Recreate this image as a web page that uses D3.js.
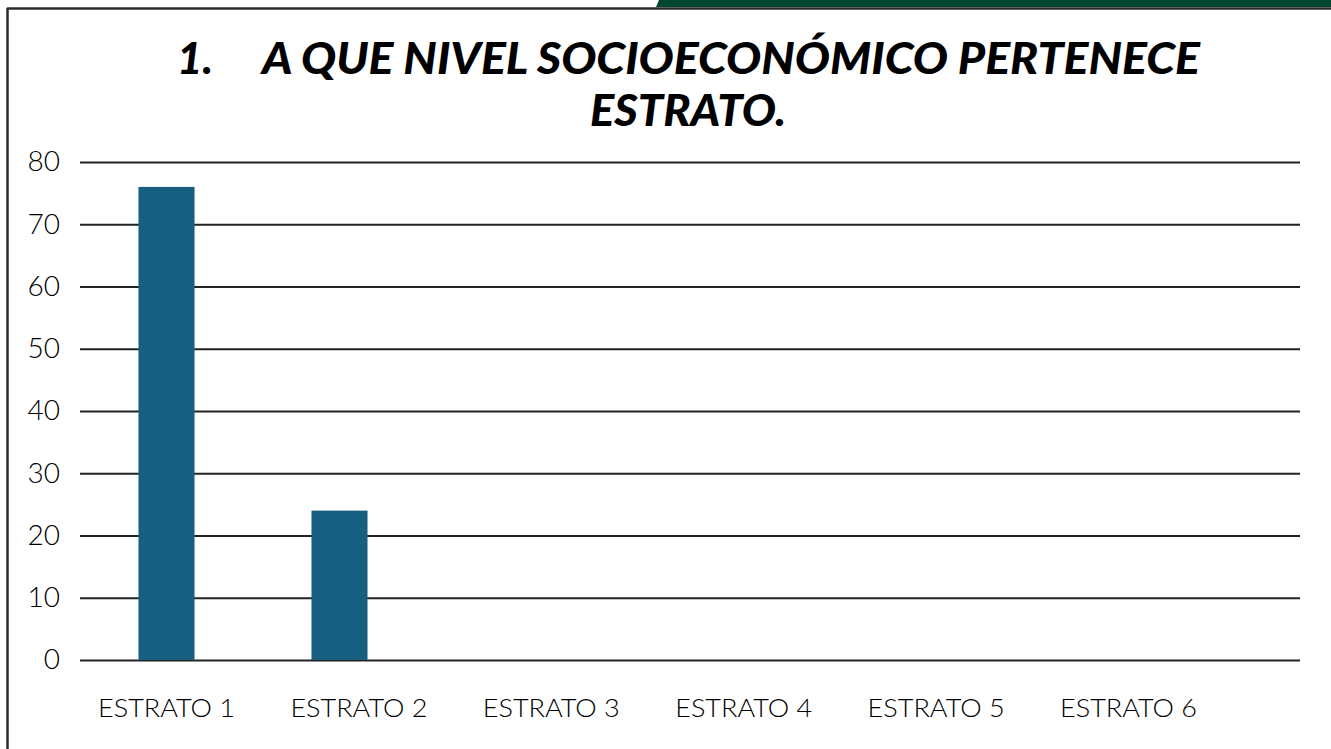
<!DOCTYPE html>
<html>
<head>
<meta charset="utf-8">
<script src="https://cdn.jsdelivr.net/npm/d3@7"></script>
<style>
  html, body { margin: 0; padding: 0; background: #fff; }
  svg { display: block; }
</style>
</head>
<body>
<div id="chart"></div>
<script>
const categories = ["ESTRATO 1", "ESTRATO 2", "ESTRATO 3", "ESTRATO 4", "ESTRATO 5", "ESTRATO 6"];
const values = [76, 24, 0, 0, 0, 0];
const yTicks = [0, 10, 20, 30, 40, 50, 60, 70, 80];
const titleNumber = "1.";
const titleLine1 = "A QUE NIVEL SOCIOECONÓMICO PERTENECE";
const titleLine2 = "ESTRATO.";

const width = 1331, height = 749;

const svg = d3.select("#chart")
    .append("svg")
    .attr("width", width)
    .attr("height", height);

// slide frame and green strip at the top
svg.append("path")
    .attr("d", "M659,0 L1331,0 L1331,7 L656,7 Z")
    .attr("fill", "#01472F");
svg.append("line")
    .attr("x1", 7).attr("x2", width)
    .attr("y1", 8.5).attr("y2", 8.5)
    .attr("stroke", "#2b2b2b").attr("stroke-width", 2.5);
svg.append("line")
    .attr("x1", 7.5).attr("x2", 7.5)
    .attr("y1", 8).attr("y2", height)
    .attr("stroke", "#2b2b2b").attr("stroke-width", 2.5);

// title
const title = svg.append("g")
    .attr("font-family", "Lato, 'Open Sans', sans-serif")
    .attr("font-weight", 900)
    .attr("font-style", "italic")
    .attr("font-size", 44)
    .attr("fill", "#000");
title.append("text")
    .attr("x", 177).attr("y", 74)
    .text(titleNumber);
title.append("text")
    .attr("x", 262).attr("y", 74)
    .attr("textLength", 938)
    .attr("lengthAdjust", "spacingAndGlyphs")
    .text(titleLine1);
title.append("text")
    .attr("x", 590).attr("y", 126)
    .attr("textLength", 196)
    .attr("lengthAdjust", "spacingAndGlyphs")
    .text(titleLine2);

// scales
const y = d3.scaleLinear()
    .domain([0, 80])
    .range([660, 162]);

const x = d3.scaleBand()
    .domain(categories)
    .range([80, 1118])
    .paddingInner(0.676)
    .paddingOuter(0.338);

const xLabel = d3.scalePoint()
    .domain(categories)
    .range([166, 1128]);

// gridlines + y labels
const yAxis = svg.append("g")
    .attr("transform", "translate(80,0)")
    .call(d3.axisLeft(y).tickValues(yTicks).tickSize(-1220).tickPadding(20).tickFormat(d3.format("d")));
yAxis.select(".domain").remove();
yAxis.selectAll(".tick line")
    .attr("stroke", "#222")
    .attr("stroke-width", 2.2);
yAxis.selectAll(".tick text")
    .attr("font-family", "Lato, 'Open Sans', sans-serif")
    .attr("font-weight", 300)
    .attr("font-size", 28)
    .attr("fill", "#000");

// bars
svg.append("g")
    .selectAll("rect")
    .data(values)
    .join("rect")
    .attr("x", (d, i) => x(categories[i]))
    .attr("y", d => y(d))
    .attr("width", x.bandwidth())
    .attr("height", d => y(0) - y(d))
    .attr("fill", "#175F80");

// x labels
const xAxis = svg.append("g")
    .attr("transform", "translate(0,660)")
    .call(d3.axisBottom(xLabel).tickSize(0).tickPadding(57));
xAxis.select(".domain").remove();
xAxis.selectAll(".tick text")
    .attr("font-family", "Lato, 'Open Sans', sans-serif")
    .attr("font-weight", 300)
    .attr("font-size", 26)
    .attr("fill", "#000")
    .attr("dy", 0)
    .attr("textLength", 137)
    .attr("lengthAdjust", "spacingAndGlyphs");
</script>
</body>
</html>
